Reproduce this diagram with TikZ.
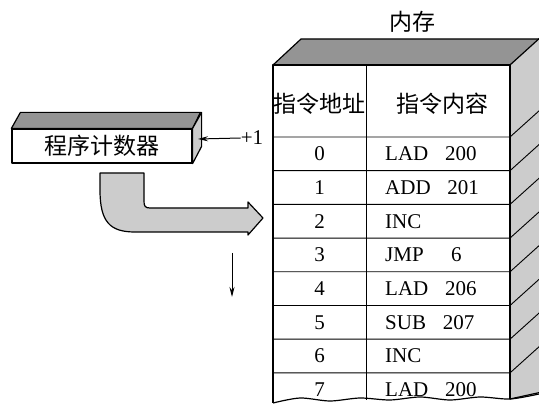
\documentclass[tikz,border=0pt]{standalone}
\usepackage{fontspec}
\setmainfont{Liberation Serif}
\newfontfamily\cjk{Noto Sans CJK SC}
\usetikzlibrary{arrows.meta}

\tikzset{
  face/.style={draw, line width=1.2pt, line join=round},
  rowline/.style={line width=0.9pt},
  cell/.style={font=\fontsize{21}{23}\selectfont, inner sep=0pt},
  cjklabel/.style={font=\cjk\fontsize{23}{26}\selectfont, inner sep=0pt},
}

\begin{document}
\begin{tikzpicture}[x=1pt, y=-1pt, >={Stealth[length=10pt,width=5pt]}]

\useasboundingbox (0,0) rectangle (539,406);
\clip (0,0) rectangle (539,406);

% Title
\node[cjklabel] (memtitle) at (412,22) {内存};

% Memory block: top and side faces
\filldraw[face, fill=black!42] (273,65) -- (301,39) -- (542,39) -- (510,65) -- cycle;
\filldraw[face, fill=black!20] (510,65) -- (542,36) -- (542,392) -- (510,399) -- cycle;

% Front face
\draw[face] (510,65) -- (273,65) -- (273,403);
\draw[face] (510,65) -- (510,399);
\draw[face] plot[smooth] coordinates {(273,403) (300,398) (330,401) (360,398) (390,400)
      (420,397) (450,400) (480,397) (510,399) (539,394)};
\draw[rowline] (366,65) -- (366,400);

% Row lines, carried onto the side face
\foreach \i in {0,...,7}
  \draw[rowline] (273,137+33.7*\i) -- (510,137+33.7*\i) -- ++(30,-27);

% Headers
\node[cjklabel] (hdaddr) at (319.5,104) {指令地址};
\node[cjklabel] (hdcont) at (442,104) {指令内容};

% Cells
\foreach \a/\c in {0/LAD\hspace{0.8em}200, 1/ADD\hspace{0.8em}201, 2/INC,
                   3/JMP\hspace{1.3em}6, 4/LAD\hspace{0.8em}206, 5/SUB\hspace{0.8em}207,
                   6/INC, 7/LAD\hspace{0.8em}200} {
  \node[cell] (addr\a) at (319.5,{137+33.7*(\a+0.5)}) {\a};
  \node[cell, anchor=west] (cont\a) at (385,{137+33.7*(\a+0.5)}) {\c};
}

% Program counter
\node[face, fill=white, cjklabel, minimum width=180pt, minimum height=34pt] (pc) at (102,146) {程序计数器};
\filldraw[face, fill=black!42] (pc.north west) -- ++(9,-16) -- ++(180,0) -- (pc.north east) -- cycle;
\filldraw[face, fill=black!20] (pc.north east) -- ++(9,-16) -- ++(0,34) -- (pc.south east) -- cycle;
\coordinate (pcside) at (198,139);

% +1
\node[cell] (inc) at (252,138) {+1};
\draw[->, line width=1pt] (inc.west) -- (pcside);

% Fetch arrow
\filldraw[face, fill=black!20] (100,173) -- (100,190) .. controls (100,222) and (110,232) .. (135,232)
  -- (248,232) -- (248,235) -- (263,218) -- (248,202) -- (248,208) -- (150,208)
  .. controls (145,208) and (144,206) .. (144,201) -- (144,173) -- cycle;

% Next step
\coordinate (nexttop) at (232,253);
\coordinate (nextbot) at (232,297);
\draw[->, line width=1pt] (nexttop) -- (nextbot);

\end{tikzpicture}
\end{document}
